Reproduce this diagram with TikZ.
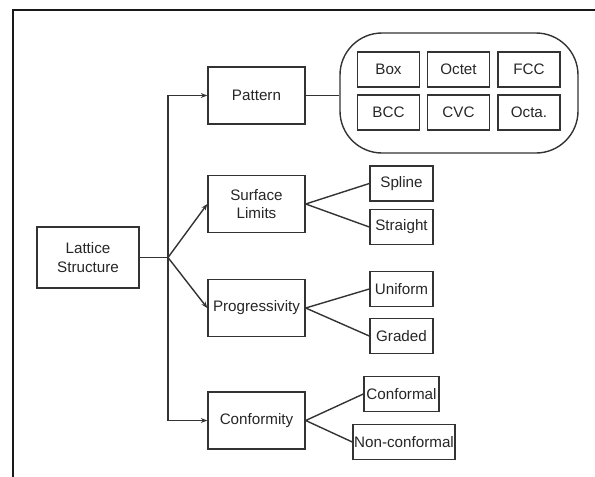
\documentclass[tikz,border=0pt]{standalone}
\usepackage{fontspec}
\setmainfont{Liberation Sans}
\usetikzlibrary{arrows.meta}
\begin{document}
\begin{tikzpicture}[x=.5pt,y=-.5pt,
  box/.style={draw=black!80,line width=.7pt,align=center,inner sep=0pt,text=black!85,font=\fontsize{7.6}{9.3}\selectfont},
  mid/.style={box,minimum width=48.5pt,minimum height=28.5pt},
  leaf/.style={box,minimum width=31.5pt,minimum height=17.5pt},
  link/.style={draw=black!80,line width=.7pt},
  arr/.style={link,-{Stealth[length=3.2pt,width=2.4pt]}}]
  \useasboundingbox (0,0) rectangle (595,477);
  \draw[line width=1pt,black!90] (13,477)--(13,10)--(595,10);
  \node[box,minimum width=51pt,minimum height=30.5pt] (lat) at (88,257.5) {Lattice\\Structure};
  \node[mid] (pat) at (256.5,95.5) {Pattern};
  \node[mid] (sur) at (256.5,204) {Surface\\Limits};
  \node[mid] (pro) at (256.5,308) {Progressivity};
  \node[mid] (con) at (256.5,420.5) {Conformity};
  \coordinate (hub) at (168,257.5);
  \draw[link] (lat) -- (hub);
  \draw[arr] (hub) |- (pat);
  \draw[arr] (hub) -- (sur.west);
  \draw[arr] (hub) -- (pro.west);
  \draw[arr] (hub) |- (con);
  % pattern types
  \node[draw=black!80,line width=.7pt,rounded corners=21pt,minimum width=119pt,minimum height=60pt] (grp) at (459,93) {};
  \draw[link] (pat.east) -- (pat.east -| grp.west);
  \foreach \t/\x/\y/\n in {Box/388.5/69.5/box,Octet/458.5/69.5/oct,FCC/529/69.5/fcc,
                           BCC/388.5/112.5/bcc,CVC/458.5/112.5/cvc,Octa./529/112.5/octa}
    \node[box,minimum width=31pt,minimum height=17.5pt] (\n) at (\x,\y) {\t};
  % leaves
  \node[leaf] (spl) at (401.5,183.5) {Spline};
  \node[leaf] (str) at (401.5,227) {Straight};
  \node[leaf] (uni) at (401.5,289) {Uniform};
  \node[leaf] (gra) at (401.5,336) {Graded};
  \node[leaf,minimum width=37.5pt] (cfm) at (401.5,394) {Conformal};
  \node[leaf,minimum width=51pt] (ncf) at (404,442) {Non-conformal};
  \draw[link] (sur.east) -- (spl.west) (sur.east) -- (str.west);
  \draw[link] (pro.east) -- (uni.west) (pro.east) -- (gra.west);
  \draw[link] (con.east) -- (cfm.west) (con.east) -- (ncf.west);
\end{tikzpicture}
\end{document}
